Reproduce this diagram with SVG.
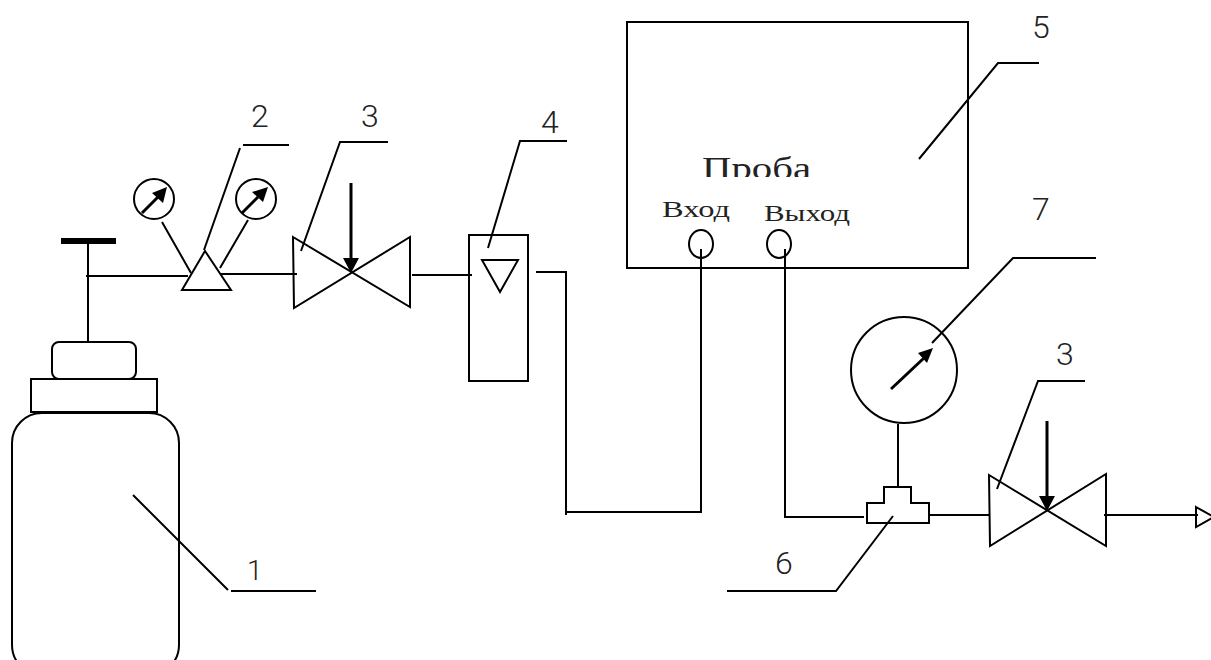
<svg xmlns="http://www.w3.org/2000/svg" width="1211" height="660" viewBox="0 0 1211 660">
<defs>
<style>
.l{fill:none;stroke:#000;stroke-width:2}
.w{fill:#fff;stroke:#000;stroke-width:2}
.b{fill:#000}
.h{fill:none;stroke:#000;stroke-width:3}
.n{font-family:"Roboto","Liberation Sans",sans-serif;font-weight:300;font-size:32px;fill:#222}
.c{font-family:"Liberation Serif","Times New Roman",serif;fill:#222}
</style>
<clipPath id="pc"><rect x="690" y="140" width="130" height="37"/></clipPath>
</defs>
<g id="node-1">
<rect class="w" x="12" y="413" width="167" height="262" rx="30"/>
<rect class="w" x="31" y="379" width="126" height="33"/>
<rect class="w" x="52" y="342" width="84" height="37" rx="7"/>
<rect class="b" x="61" y="238" width="55" height="6"/>
<path class="l" d="M133 495L228 590M231 591H316"/>
<text class="n" x="247" y="580" style="font-size:28px">1</text>
</g>
<g id="node-2">
<path class="w" d="M205 251L231 290H182Z"/>
<circle class="w" cx="154" cy="199" r="20"/>
<circle class="w" cx="256" cy="199" r="20"/>
<path class="h" d="M142 213L158 197M242 213L258 197"/>
<path class="b" d="M167 187L152 193L163 203ZM268 187L252 192L263 202Z"/>
<path class="l" d="M204 250L240 148M243 145H289"/>
<text class="n" x="251" y="127">2</text>
</g>
<g id="node-3a">
<path class="w" d="M293 237L410 307V237L294 308Z"/>
<path class="h" d="M351 183V262"/>
<path class="b" d="M343 258H359L351 273Z"/>
<path class="l" d="M301 251L340 142H388"/>
<text class="n" x="361" y="127">3</text>
</g>
<g id="node-4">
<rect class="w" x="469" y="235" width="59" height="146"/>
<path class="w" d="M482 260H518L500 292Z"/>
<path class="l" d="M488 248L520 141H567"/>
<text class="n" x="541" y="133">4</text>
</g>
<g id="node-5">
<rect class="w" x="627" y="22" width="341" height="246"/>
<ellipse class="l" cx="701" cy="244" rx="12" ry="14"/>
<ellipse class="l" cx="779" cy="244" rx="12" ry="14"/>
<path class="l" d="M919 159L998 63H1039"/>
<text class="n" x="1032" y="38">5</text>
<text class="c" x="702" y="179" font-size="32" textLength="109" lengthAdjust="spacingAndGlyphs" clip-path="url(#pc)">Проба</text>
<text class="c" x="662" y="217" font-size="24" textLength="68" lengthAdjust="spacingAndGlyphs">Вход</text>
<text class="c" x="764" y="221" font-size="24" textLength="86" lengthAdjust="spacingAndGlyphs">Выход</text>
</g>
<g id="node-6">
<path class="w" d="M867 503H884V487H911V503H929V523H867Z"/>
<path class="l" d="M893 516L836 591H727"/>
<text class="n" x="775" y="574">6</text>
</g>
<g id="node-7">
<circle class="w" cx="904" cy="370" r="53"/>
<path class="h" d="M891 389L924 358"/>
<path class="b" d="M933 348L918 353L927 363Z"/>
<path class="l" d="M932 343L1013 258H1096"/>
<text class="n" x="1032" y="220">7</text>
</g>
<g id="node-3b">
<path class="w" d="M989 475L1106 546V474L990 546Z"/>
<path class="h" d="M1047 421V500"/>
<path class="b" d="M1039 496H1055L1047 511Z"/>
<path class="l" d="M997 489L1038 381H1085"/>
<text class="n" x="1056" y="365">3</text>
</g>
<g id="outlet"><path class="w" d="M1196 507L1214 517L1196 527Z"/></g>
<g id="connectors" class="l">
<path d="M86 276H188M221 274H297M412 275H472M536 272H566V515M565 512H701V249M785 249V517H864M929 515H990M1104 515H1198"/>
<path d="M88 242V343M898 424V487"/>
<path d="M162 222L191 273M248 220L220 268"/>
</g>
</svg>
